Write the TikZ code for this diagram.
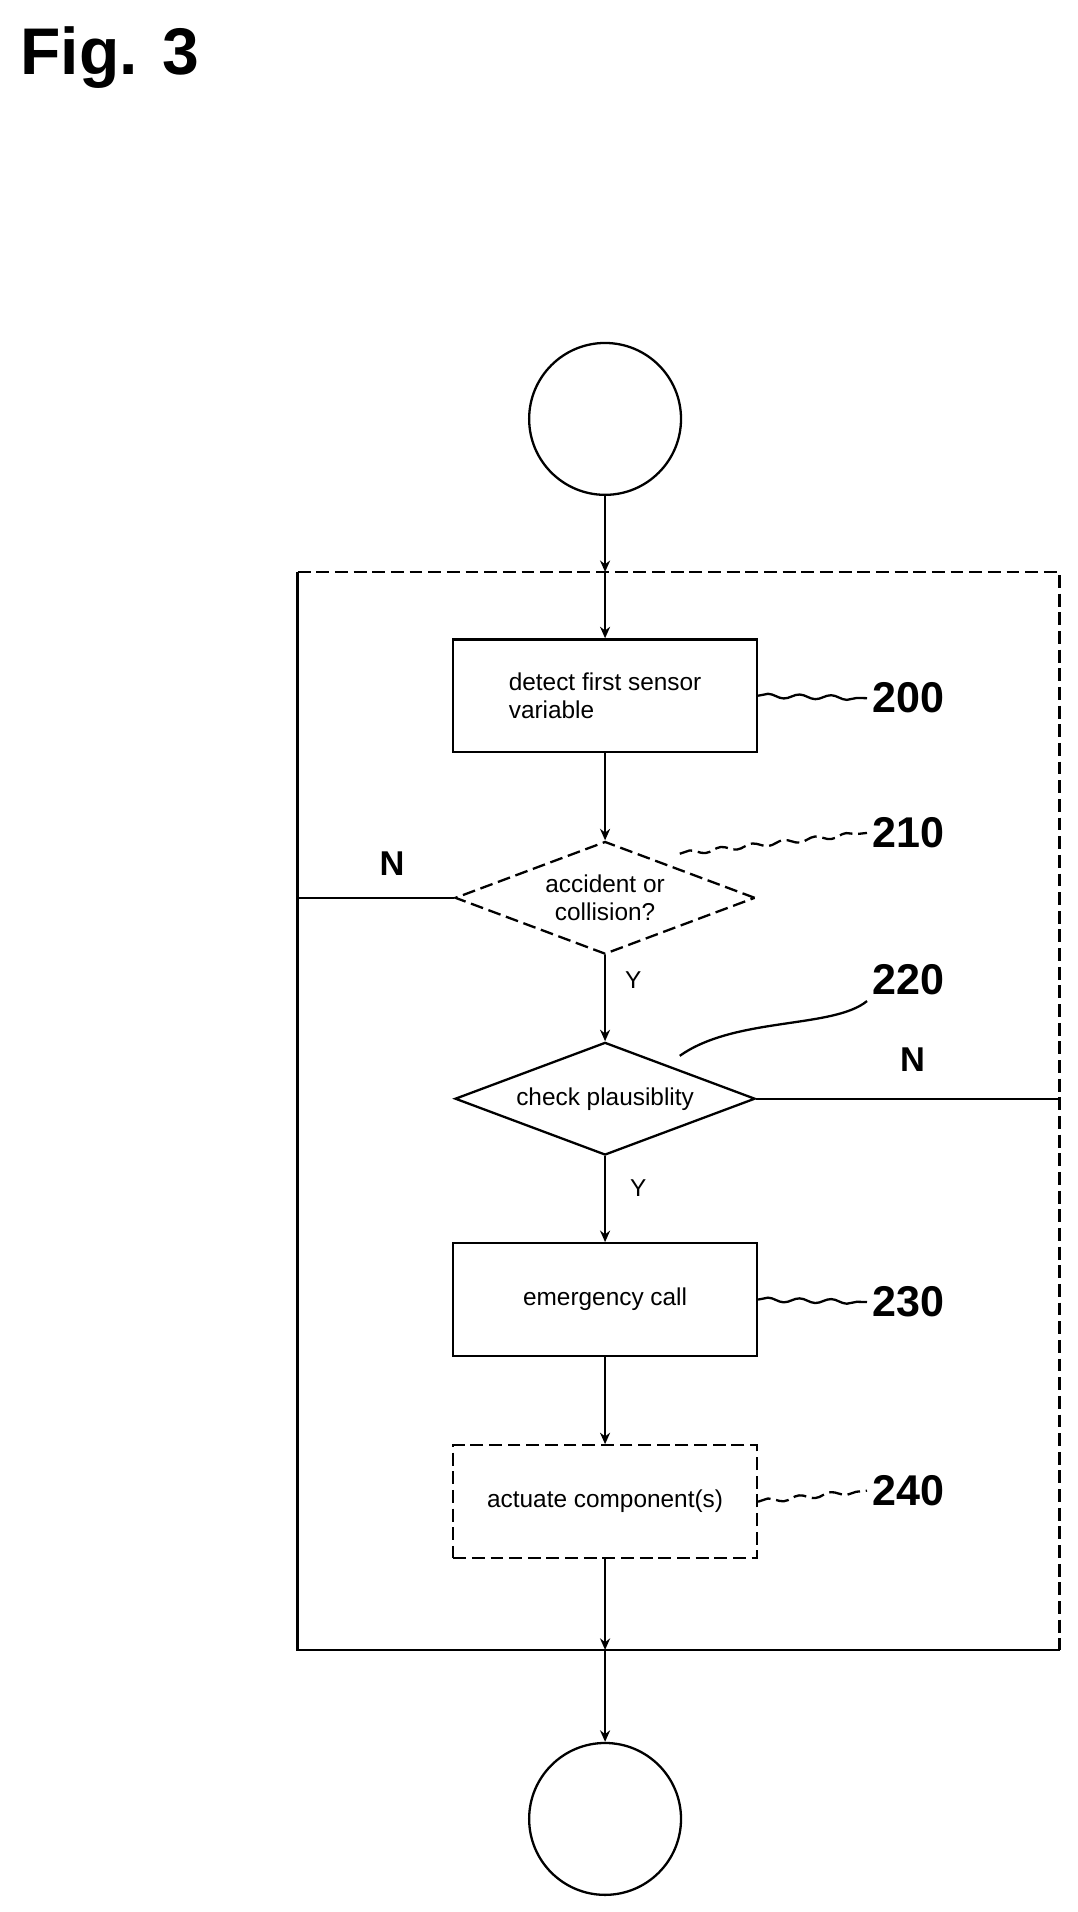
\documentclass[tikz,border=0pt]{standalone}
\usepackage{fontspec}
\setmainfont{Liberation Sans}
\usetikzlibrary{shapes.geometric,arrows.meta,decorations.pathmorphing}
\begin{document}
\begin{tikzpicture}[x=0.03cm,y=-0.03cm,
  line width=1.6pt,
  txt/.style={font=\fontsize{17}{19}\selectfont},
  num/.style={font=\bfseries\fontsize{30}{32}\selectfont},
  box/.style={draw,rectangle,minimum width=248*0.03cm,minimum height=92*0.03cm,inner sep=2pt},
  dia/.style={draw,diamond,aspect=2.66,minimum width=245*0.03cm,minimum height=92*0.03cm,inner sep=0pt},
  circ/.style={draw,circle,minimum size=124*0.03cm},
  dsh/.style={dash pattern=on 9pt off 4pt},
  arr/.style={-{Stealth[length=8pt,width=7pt]}},
  wav/.style={decorate,decoration={snake,amplitude=1.5pt,segment length=22pt}}]
\useasboundingbox (0,0) rectangle (880,1561);
\node[font=\bfseries\fontsize{46}{48}\selectfont,anchor=west] (fig) at (12,47) {Fig. 3};
\node[circ] (c1) at (494,342) {};
\node[circ] (c2) at (494,1485) {};
\coordinate (tl) at (243,467); \coordinate (tr) at (865,467);
\coordinate (bl) at (243,1347); \coordinate (br) at (865,1347);
\coordinate (tm) at (494,467); \coordinate (bm) at (494,1347);
\draw[dsh] (tl) -- (tr) -- (br);
\draw (br) -- (bl) -- (tl);
\node[box,align=left,txt] (b200) at (494,568) {detect first sensor\\variable};
\node[dia,dsh,txt,align=center] (d210) at (494,733) {accident or\\collision?};
\node[dia,txt] (d220) at (494,897) {check plausiblity};
\node[box,txt] (b230) at (494,1061) {emergency call};
\node[box,dsh,txt] (b240) at (494,1226) {actuate component(s)};
\draw[arr] (c1) -- (tm);
\draw[arr] (tm) -- (b200);
\draw[arr] (b200) -- (d210);
\draw[arr] (d210) -- (d220);
\draw[arr] (d220) -- (b230);
\draw[arr] (b230) -- (b240);
\draw[arr] (b240) -- (bm);
\draw[arr] (bm) -- (c2);
\coordinate (lN) at (243,733); \coordinate (rN) at (865,897);
\draw (d210.west) -- (lN);
\draw (d220.east) -- (rN);
\node[num,font=\bfseries\fontsize{24}{26}\selectfont] (n1) at (320,705) {N};
\node[num,font=\bfseries\fontsize{24}{26}\selectfont] (n2) at (745,865) {N};
\node[txt] (y1) at (517,800) {Y};
\node[txt] (y2) at (521,970) {Y};
\node[num] (l200) at (742,570) {200};
\node[num] (l210) at (742,680) {210};
\node[num] (l220) at (742,800) {220};
\node[num] (l230) at (742,1063) {230};
\node[num] (l240) at (742,1217) {240};
\draw[wav] (b200.east) -- (l200.west);
\draw[wav,dsh] (555,697) -- (l210.west);
\draw (555,862) .. controls (600,830) and (680,840) .. (l220.south west);
\draw[wav] (b230.east) -- (l230.west);
\draw[wav,dsh] (b240.east) -- (l240.west);
\end{tikzpicture}
\end{document}
